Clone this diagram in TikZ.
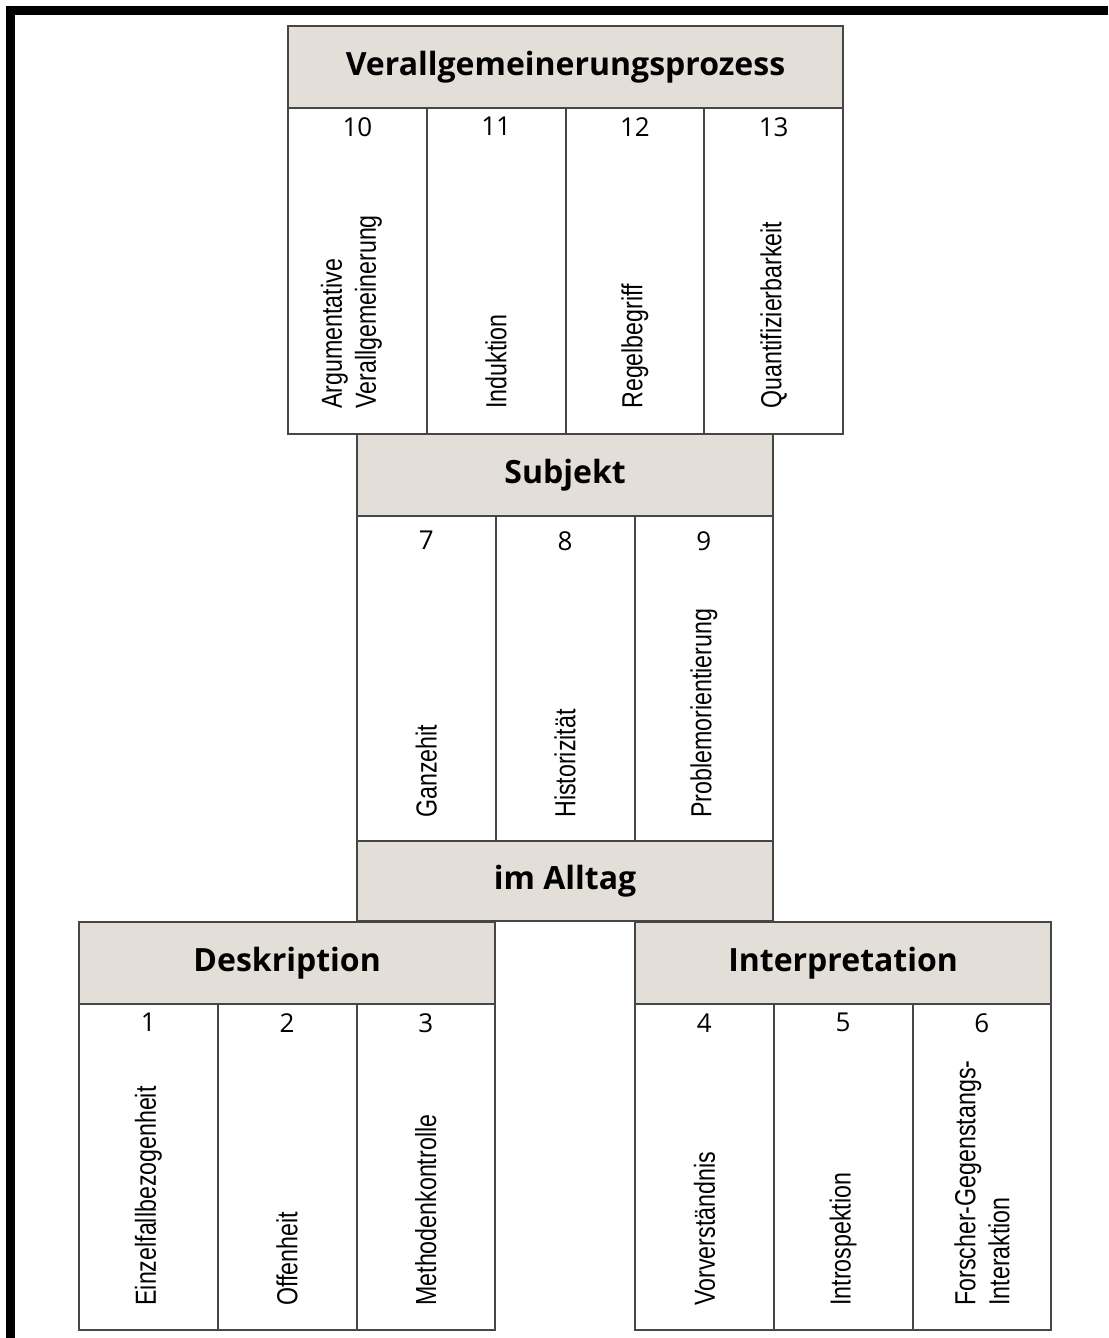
\documentclass[tikz,border=0pt]{standalone}
\usepackage{fontspec}
\setmainfont{Open Sans}
\newfontfamily\narrowfont[FakeStretch=0.8]{Liberation Sans}
\usetikzlibrary{positioning}

\definecolor{headfill}{RGB}{228,222,216}
\definecolor{rulegray}{RGB}{70,70,70}

\begin{document}
\begin{tikzpicture}[
  x=0.5pt, y=-0.5pt,
  every node/.style = {inner sep=0pt},
  headbox/.style = {rectangle, draw=rulegray, line width=1pt,
                    fill=headfill, anchor=north west,
                    minimum width=#1, minimum height=41pt,
                    font=\fontsize{16}{18}\selectfont\bfseries},
  cellbox/.style = {rectangle, draw=rulegray, line width=1pt,
                    anchor=north west,
                    minimum width=69.375pt, minimum height=163pt},
  numlbl/.style  = {font=\fontsize{13}{15}\selectfont},
  vlbl/.style    = {font=\narrowfont\fontsize{14.5}{17}\selectfont,
                    rotate=90, anchor=west, align=left},
]
\useasboundingbox (0,0) rectangle (1108,1338);

%% ── Frame ─────────────────────────────────────────────────────────────────
\draw[line width=4.5pt] (10,1338) -- (10,11) -- (1108,11);

%% ── Verallgemeinerungsprozess ─────────────────────────────────────────────
\node[cellbox] at (287,107)    (c10) {};
\node[cellbox] at (425.75,107) (c11) {};
\node[cellbox] at (564.5,107)  (c12) {};
\node[cellbox] at (703.25,107) (c13) {};
\node[headbox=277.5pt] at (287,25) (verall) {Verallgemeinerungsprozess};

\node[numlbl, below=5pt of c10.north] (n10) {10};
\node[numlbl, below=5pt of c11.north] (n11) {11};
\node[numlbl, below=5pt of c12.north] (n12) {12};
\node[numlbl, below=5pt of c13.north] (n13) {13};

\node[vlbl] at ([xshift=-3pt, yshift=13pt]c10.south) (argu)
  {Argumentative\\Verallgemeinerung};
\node[vlbl] at ([yshift=13pt]c11.south) (indu) {Induktion};
\node[vlbl] at ([yshift=13pt]c12.south) (regel) {Regelbegriff};
\node[vlbl] at ([yshift=13pt]c13.south) (quant) {Quantifizierbarkeit};

%% ── Subjekt ───────────────────────────────────────────────────────────────
\node[cellbox] at (356,515)    (c7) {};
\node[cellbox] at (494.75,515) (c8) {};
\node[cellbox] at (633.5,515)  (c9) {};
\node[headbox=208.125pt] at (356,433) (subjekt) {Subjekt};

\node[numlbl, below=8pt of c7.north] (n7) {7};
\node[numlbl, below=8pt of c8.north] (n8) {8};
\node[numlbl, below=8pt of c9.north] (n9) {9};

\node[vlbl] at ([yshift=12.5pt]c7.south) (ganz) {Ganzehit};
\node[vlbl] at ([yshift=12.5pt]c8.south) (hist) {Historizität};
\node[vlbl] at ([yshift=12.5pt]c9.south) (probl) {Problemorientierung};

%% ── im Alltag ─────────────────────────────────────────────────────────────
\node[headbox=208.125pt, minimum height=40pt] at (356,840) (alltag) {im Alltag};

%% ── Deskription ───────────────────────────────────────────────────────────
\node[cellbox] at (78,1003)     (c1) {};
\node[cellbox] at (216.75,1003) (c2) {};
\node[cellbox] at (355.5,1003)  (c3) {};
\node[headbox=208.125pt] at (78,921) (deskr) {Deskription};

\node[numlbl, below=5pt of c1.north] (n1) {1};
\node[numlbl, below=5pt of c2.north] (n2) {2};
\node[numlbl, below=5pt of c3.north] (n3) {3};

\node[vlbl] at ([yshift=12.5pt]c1.south) (einz) {Einzelfallbezogenheit};
\node[vlbl] at ([yshift=12.5pt]c2.south) (offen) {Offenheit};
\node[vlbl] at ([yshift=12.5pt]c3.south) (meth) {Methodenkontrolle};

%% ── Interpretation ────────────────────────────────────────────────────────
\node[cellbox] at (634,1003)    (c4) {};
\node[cellbox] at (772.75,1003) (c5) {};
\node[cellbox] at (911.5,1003)  (c6) {};
\node[headbox=208.125pt] at (634,921) (interp) {Interpretation};

\node[numlbl, below=5pt of c4.north] (n4) {4};
\node[numlbl, below=5pt of c5.north] (n5) {5};
\node[numlbl, below=5pt of c6.north] (n6) {6};

\node[vlbl] at ([yshift=12.5pt]c4.south) (vorv) {Vorverständnis};
\node[vlbl] at ([yshift=12.5pt]c5.south) (intro) {Introspektion};
\node[vlbl] at ([yshift=12.5pt]c6.south) (forsch)
  {Forscher-Gegenstangs-\\Interaktion};

\end{tikzpicture}
\end{document}
